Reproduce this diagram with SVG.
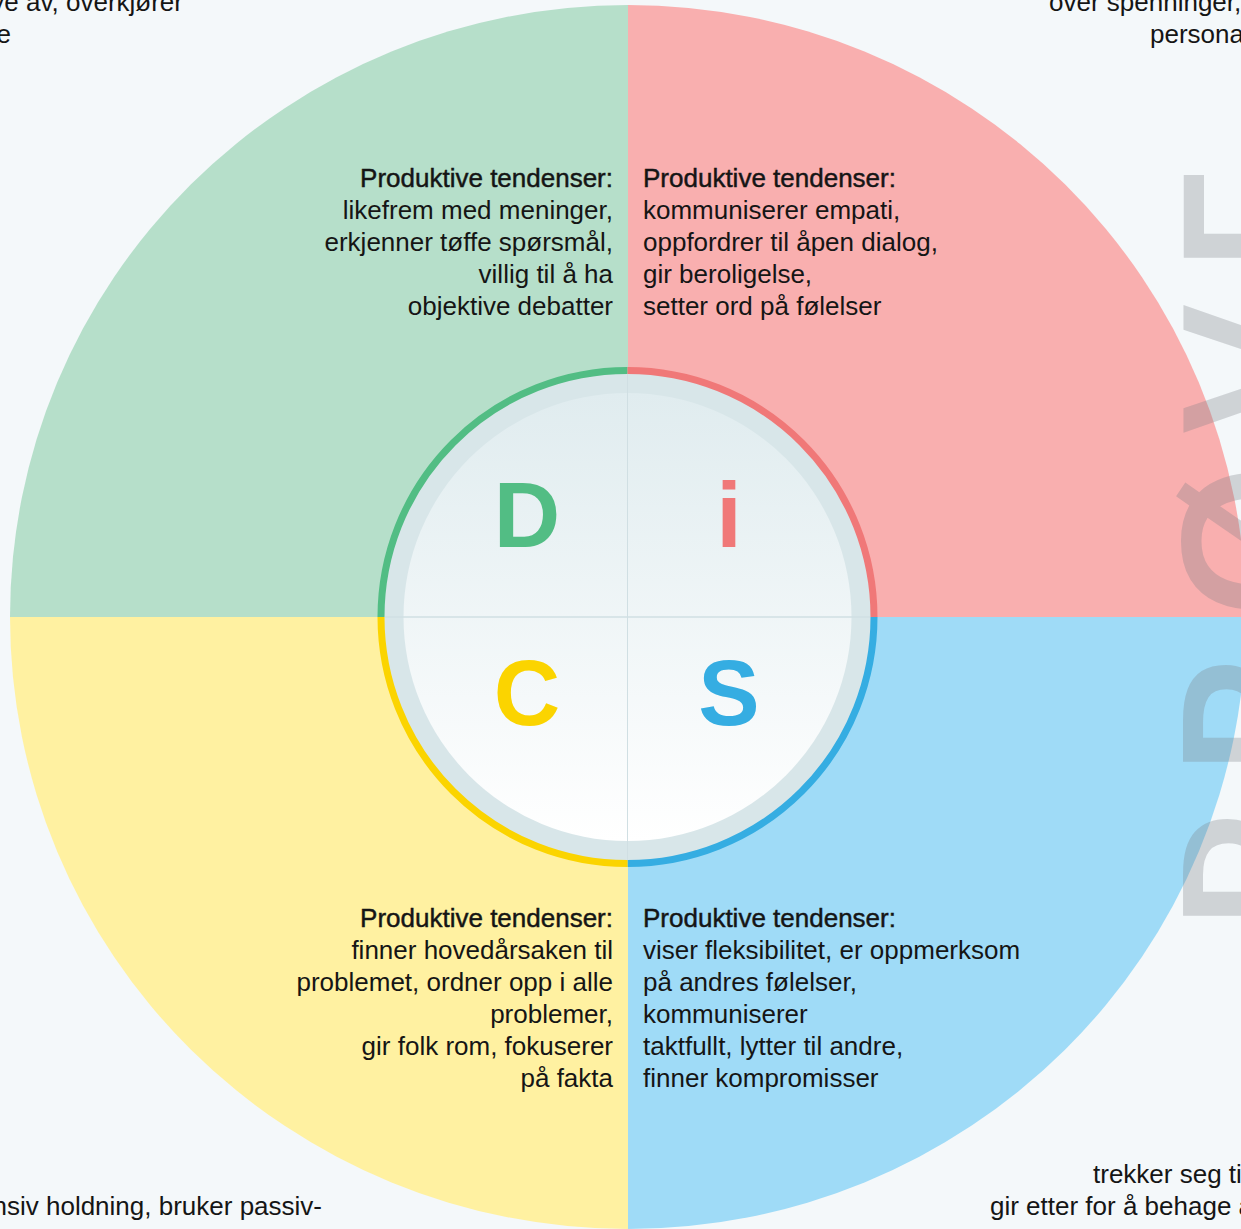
<svg xmlns="http://www.w3.org/2000/svg" width="1241" height="1229" viewBox="0 0 1241 1229">
  <defs>
    <style>
      .t { font-family: "Liberation Sans", Arial, sans-serif; font-size: 26px; fill: #151515; }
      .h { stroke: #151515; stroke-width: 0.45px; }
      .end { text-anchor: end; }
      .big { font-family: "Liberation Sans", Arial, sans-serif; font-size: 92px; font-weight: bold; text-anchor: middle; }
      .ring { fill: none; stroke-width: 7; }
      .wm { font-family: "Open Sans", "Liberation Sans", sans-serif; font-size: 205px; font-weight: 600; fill: #7a7f83; fill-opacity: 0.3; letter-spacing: 28px; }
    </style>
    <linearGradient id="innerGrad" x1="0" y1="0" x2="0" y2="1">
      <stop offset="0" stop-color="#e0ecef"/>
      <stop offset="1" stop-color="#ffffff"/>
    </linearGradient>
    <clipPath id="tl"><rect x="0" y="-10" width="628" height="627"/></clipPath>
    <clipPath id="tr"><rect x="628" y="-10" width="700" height="627"/></clipPath>
    <clipPath id="bl"><rect x="0" y="617" width="628" height="700"/></clipPath>
    <clipPath id="br"><rect x="628" y="617" width="700" height="700"/></clipPath>
  </defs>

  <rect x="0" y="0" width="1241" height="1229" fill="#f4f8fa"/>

  <g id="quadrant-D">
    <ellipse cx="628" cy="617" rx="618" ry="612" fill="#b6dfca" clip-path="url(#tl)"/>
    <text class="t h end" x="613" y="187">Produktive tendenser:</text>
    <text class="t end" x="613" y="219">likefrem med meninger,</text>
    <text class="t end" x="613" y="251">erkjenner tøffe spørsmål,</text>
    <text class="t end" x="613" y="283">villig til å ha</text>
    <text class="t end" x="613" y="315">objektive debatter</text>
  </g>

  <g id="quadrant-i">
    <ellipse cx="628" cy="617" rx="618" ry="612" fill="#f9afaf" clip-path="url(#tr)"/>
    <text class="t h" x="643" y="187">Produktive tendenser:</text>
    <text class="t" x="643" y="219">kommuniserer empati,</text>
    <text class="t" x="643" y="251">oppfordrer til åpen dialog,</text>
    <text class="t" x="643" y="283">gir beroligelse,</text>
    <text class="t" x="643" y="315">setter ord på følelser</text>
  </g>

  <g id="quadrant-C">
    <ellipse cx="628" cy="617" rx="618" ry="612" fill="#fff1a1" clip-path="url(#bl)"/>
    <text class="t h end" x="613" y="927">Produktive tendenser:</text>
    <text class="t end" x="613" y="959">finner hovedårsaken til</text>
    <text class="t end" x="613" y="991">problemet, ordner opp i alle</text>
    <text class="t end" x="613" y="1023">problemer,</text>
    <text class="t end" x="613" y="1055">gir folk rom, fokuserer</text>
    <text class="t end" x="613" y="1087">på fakta</text>
  </g>

  <g id="quadrant-S">
    <ellipse cx="628" cy="617" rx="618" ry="612" fill="#9fdbf7" clip-path="url(#br)"/>
    <text class="t h" x="643" y="927">Produktive tendenser:</text>
    <text class="t" x="643" y="959">viser fleksibilitet, er oppmerksom</text>
    <text class="t" x="643" y="991">på andres følelser,</text>
    <text class="t" x="643" y="1023">kommuniserer</text>
    <text class="t" x="643" y="1055">taktfullt, lytter til andre,</text>
    <text class="t" x="643" y="1087">finner kompromisser</text>
  </g>

  <g id="center-disc">
    <circle cx="627.5" cy="617" r="244" fill="#d8e6e9"/>
    <circle cx="627.5" cy="617" r="224" fill="url(#innerGrad)"/>
    <line x1="627.5" y1="374" x2="627.5" y2="860" stroke="#d0dfe3" stroke-width="1"/>
    <line x1="385" y1="617" x2="870" y2="617" stroke="#d0dfe3" stroke-width="1.5"/>
    <path class="ring" stroke="#52bd84" d="M381,617 A246.5,246.5 0 0 1 627.5,370.5"/>
    <path class="ring" stroke="#f07878" d="M627.5,370.5 A246.5,246.5 0 0 1 874,617"/>
    <path class="ring" stroke="#35ade2" d="M874,617 A246.5,246.5 0 0 1 627.5,863.5"/>
    <path class="ring" stroke="#fbd400" d="M627.5,863.5 A246.5,246.5 0 0 1 381,617"/>
    <text class="big" x="527" y="547" fill="#52bd84">D</text>
    <text class="big" x="729" y="547" fill="#f07878">i</text>
    <text class="big" x="527" y="725" fill="#fbd400">C</text>
    <text class="big" x="729" y="725" fill="#35ade2">S</text>
  </g>

  <g id="corner-texts">
    <text class="t end" x="183" y="11">ye av, overkjører</text>
    <text class="t end" x="11" y="43">e</text>
    <text class="t" x="1049" y="11">over spenninger,</text>
    <text class="t" x="1150" y="43">persona</text>
    <text class="t end" x="322" y="1215">nsiv holdning, bruker passiv-</text>
    <text class="t" x="1093" y="1183">trekker seg ti</text>
    <text class="t" x="990" y="1215">gir etter for å behage a</text>
  </g>

  <g id="watermark">
    <text class="wm" transform="translate(1330,0) rotate(-90)" x="-935" y="0">PRØVE</text>
  </g>
</svg>
